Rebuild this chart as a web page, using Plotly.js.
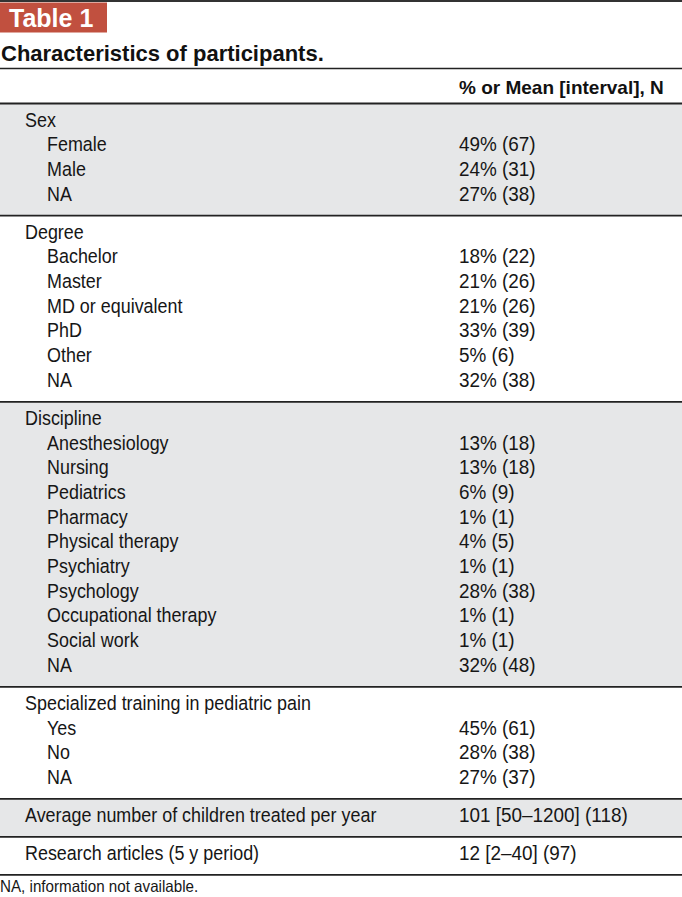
<!DOCTYPE html>
<html>
<head>
<meta charset="utf-8">
<script src="https://cdn.plot.ly/plotly-3.0.1.min.js"></script>
<style>html,body{margin:0;padding:0;background:#fff;}#chart{width:682px;height:897px;}</style>
</head>
<body>
<div id="chart"></div>
<script>
// ---- data ----
const tableLabel = "Table 1";
const tableTitle = "Characteristics of participants.";
const columnHeader = "% or Mean [interval], N";
const footnote = "NA, information not available.";

const sectionNames = ["Sex", "Degree", "Discipline", "Specialized training in pediatric pain",
  "Average number of children treated per year", "Research articles (5 y period)"];
const sectionValues = ["", "", "", "", "101 [50\u20131200] (118)", "12 [2\u201340] (97)"];

const sexLabels = ["Female", "Male", "NA"];
const sexValues = ["49% (67)", "24% (31)", "27% (38)"];
const degreeLabels = ["Bachelor", "Master", "MD or equivalent", "PhD", "Other", "NA"];
const degreeValues = ["18% (22)", "21% (26)", "21% (26)", "33% (39)", "5% (6)", "32% (38)"];
const disciplineLabels = ["Anesthesiology", "Nursing", "Pediatrics", "Pharmacy", "Physical therapy",
  "Psychiatry", "Psychology", "Occupational therapy", "Social work", "NA"];
const disciplineValues = ["13% (18)", "13% (18)", "6% (9)", "1% (1)", "4% (5)", "1% (1)",
  "28% (38)", "1% (1)", "1% (1)", "32% (48)"];
const trainingLabels = ["Yes", "No", "NA"];
const trainingValues = ["45% (61)", "28% (38)", "27% (37)"];
const averageLabels = [];
const averageValues = [];
const researchLabels = [];
const researchValues = [];

const sectionItems = [sexLabels, degreeLabels, disciplineLabels, trainingLabels, averageLabels, researchLabels];
const sectionItemValues = [sexValues, degreeValues, disciplineValues, trainingValues, averageValues, researchValues];

// ---- layout geometry ----
const W = 682, H = 897;
const pitch = 24.7, pad = 19;
const bodyTop = 103.5;
const xSection = 25, xItem = 47, xValue = 459;
const shade = "#e6e7e8", rule = "#222222", ink = "#161616";
const bodyFont = "'Liberation Sans', Arial, Helvetica, sans-serif";
const fs = 19.5;
const squeezeLabels = 0.92, squeezeValues = 0.97;

const shapes = [];
const labX = [], labY = [], labT = [];
const valX = [], valY = [], valT = [];
let yCursor = bodyTop;
sectionNames.forEach((name, s) => {
  const items = sectionItems[s];
  const nRows = items.length + 1;
  const h = (nRows - 1) * pitch + 2 * pad;
  if (s % 2 === 0) {
    shapes.push({type: "rect", xref: "x", yref: "y", x0: 0, x1: W, y0: yCursor, y1: yCursor + h,
      fillcolor: shade, line: {width: 0}, layer: "below"});
  }
  let y = yCursor + pad - 0.8;
  labX.push(xSection); labY.push(y); labT.push(name);
  if (sectionValues[s]) { valX.push(xValue); valY.push(y); valT.push(sectionValues[s]); }
  items.forEach((it, i) => {
    y += pitch;
    labX.push(xItem); labY.push(y); labT.push(it);
    valX.push(xValue); valY.push(y); valT.push(sectionItemValues[s][i]);
  });
  yCursor += h;
  shapes.push({type: "line", xref: "x", yref: "y", x0: 0, x1: W, y0: yCursor, y1: yCursor,
    line: {color: rule, width: 1.7}});
});
const bodyBottom = yCursor;

// rules above the body
shapes.push({type: "line", xref: "x", yref: "y", x0: 0, x1: W, y0: bodyTop, y1: bodyTop, line: {color: rule, width: 1.8}});
shapes.push({type: "line", xref: "x", yref: "y", x0: 0, x1: W, y0: 68.5, y1: 68.5, line: {color: rule, width: 1.4}});
shapes.push({type: "line", xref: "x", yref: "y", x0: 0, x1: W, y0: 1, y1: 1, line: {color: "#333333", width: 2}});
// Table badge
shapes.push({type: "rect", xref: "x", yref: "y", x0: 0, x1: 107, y0: 2.5, y1: 32.5, fillcolor: "#c1503f", line: {width: 0}});

const traces = [
  {type: "scatter", mode: "text", x: labX, y: labY, text: labT, textposition: "middle right",
    textfont: {family: bodyFont, size: fs, color: ink}, hoverinfo: "skip", cliponaxis: false},
  {type: "scatter", mode: "text", x: valX, y: valY, text: valT, textposition: "middle right",
    textfont: {family: bodyFont, size: fs, color: ink}, hoverinfo: "skip", cliponaxis: false}
];

const annotations = [
  {xref: "x", yref: "y", x: 7, y: 18, text: "<b>" + tableLabel + "</b>", showarrow: false, xanchor: "left", yanchor: "middle",
    font: {family: "'Liberation Sans', Arial, sans-serif", size: 25, color: "#ffffff"}},
  {xref: "x", yref: "y", x: 0, xshift: -1, y: 53, text: "<b>" + tableTitle + "</b>", showarrow: false, xanchor: "left", yanchor: "middle",
    font: {family: "'Liberation Sans', Arial, sans-serif", size: 22, color: "#111111"}},
  {xref: "x", yref: "y", x: xValue - 2, y: 87, text: "<b>" + columnHeader + "</b>", showarrow: false, xanchor: "left", yanchor: "middle",
    font: {family: bodyFont, size: 19, color: "#111111"}},
  {xref: "x", yref: "y", x: 0, xshift: -2, y: bodyBottom + 11.5, text: footnote, showarrow: false, xanchor: "left", yanchor: "middle",
    font: {family: bodyFont, size: 16.5, color: ink}}
];

const layout = {
  width: W, height: H, margin: {l: 0, r: 0, t: 0, b: 0},
  paper_bgcolor: "#ffffff", plot_bgcolor: "#ffffff", showlegend: false,
  xaxis: {range: [0, W], visible: false, fixedrange: true},
  yaxis: {range: [H, 0], visible: false, fixedrange: true},
  shapes: shapes, annotations: annotations
};

function condense(el, k) {
  el.style.transformBox = "fill-box";
  el.style.transformOrigin = "0% 50%";
  el.style.transform = "scaleX(" + k + ")";
}
Plotly.newPlot("chart", traces, layout, {displayModeBar: false, staticPlot: true}).then(gd => {
  const tr = gd.querySelectorAll(".scatterlayer .trace");
  if (tr[0]) tr[0].querySelectorAll(".textpoint text").forEach(t => condense(t, squeezeLabels));
  if (tr[1]) tr[1].querySelectorAll(".textpoint text").forEach(t => condense(t, squeezeValues));
  const foot = gd.querySelector('.annotation[data-index="3"] text');
  if (foot) condense(foot, squeezeLabels);
});
</script>
</body>
</html>
